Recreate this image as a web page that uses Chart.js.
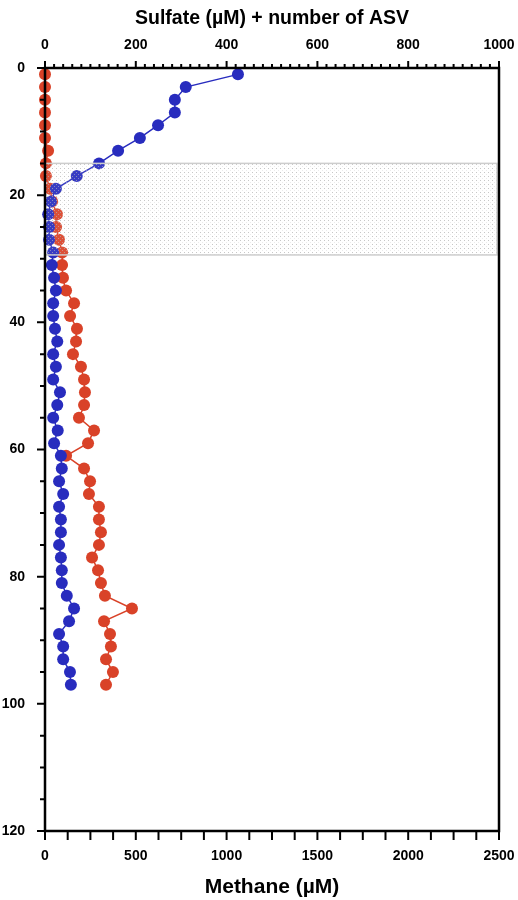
<!DOCTYPE html>
<html>
<head>
<meta charset="utf-8">
<script src="https://cdn.jsdelivr.net/npm/chart.js@4"></script>
<style>
html,body{margin:0;padding:0;background:#fff;}
#wrap{width:518px;height:900px;position:relative;}
</style>
</head>
<body>
<div id="wrap"><canvas id="c" width="518" height="900"></canvas></div>
<script>
// Depth (cm) of each sample
const depths = [1,3,5,7,9,11,13,15,17,19,21,23,25,27,29,31,33,35,37,39,41,43,45,47,49,51,53,55,57,59,61,63,65,67,69,71,73,75,77,79,81,83,85,87,89,91,93,95,97];
// Sulfate (µM) + number of ASV — top axis
const sulfate = [425,310,286,286,249,209,161,119,70,24,13,7,9,9,18,15,20,24,18,18,22,27,18,24,18,33,27,18,28,20,35,37,31,40,31,35,35,31,35,37,37,48,64,53,31,40,40,55,57];
// Methane (µM) — bottom axis
const methane = [0,0,0,0,0,0,17,5,5,28,39,66,61,77,94,94,99,116,160,138,176,171,154,198,215,220,215,187,270,237,116,215,248,242,297,297,308,297,259,292,308,330,479,325,358,363,336,374,336];
// Shaded zone (depth range)
const zoneDepths = [15, 29.4];

const topTitle = 'Sulfate (µM) + number of ASV';
const bottomTitle = 'Methane (µM)';
const FONT = "'Liberation Sans', Arial, sans-serif";

const blue = 'rgb(40,44,190)';
const red = 'rgb(217,66,40)';

function makePattern(ctx){
  const p = document.createElement('canvas');
  p.width = 4; p.height = 4;
  const g = p.getContext('2d');
  g.fillStyle = 'rgba(255,255,255,0.08)';
  g.fillRect(0,0,4,4);
  g.fillStyle = 'rgba(175,175,175,0.7)';
  g.fillRect(0,0,1,1);
  g.fillStyle = 'rgba(210,210,210,0.45)';
  g.fillRect(2,2,1,1);
  return ctx.createPattern(p,'repeat');
}

const decor = {
  id:'decor',
  afterDatasetsDraw(chart){
    const {ctx, chartArea:a, scales} = chart;
    const y = scales.y, xb = scales.x, xt = scales.x2;
    ctx.save();
    // shaded zone
    const y0 = y.getPixelForValue(zoneDepths[0]);
    const y1 = y.getPixelForValue(zoneDepths[1]);
    const xl = xt.getPixelForValue(0), xr = xt.getPixelForValue(1000) - 2;
    ctx.fillStyle = makePattern(ctx);
    ctx.fillRect(xl, y0, xr - xl, y1 - y0);
    ctx.strokeStyle = 'rgb(205,205,205)';
    ctx.lineWidth = 1.5;
    ctx.strokeRect(xl, y0, xr - xl, y1 - y0);
    // frame
    ctx.strokeStyle = '#000';
    ctx.lineWidth = 2.5;
    ctx.strokeRect(a.left, a.top, a.right - a.left, a.bottom - a.top);
    ctx.lineWidth = 2;
    ctx.beginPath();
    // left ticks
    for (let v = 0; v <= 120; v += 5){
      const py = y.getPixelForValue(v);
      const len = v % 20 === 0 ? 8 : 5;
      ctx.moveTo(a.left, py); ctx.lineTo(a.left - len, py);
    }
    // bottom ticks
    for (let v = 0; v <= 2500; v += 125){
      const px = xb.getPixelForValue(v);
      ctx.moveTo(px, a.bottom); ctx.lineTo(px, a.bottom + 9);
    }
    // top ticks
    for (let v = 0; v <= 1000; v += 20){
      const px = xt.getPixelForValue(v);
      const len = v % 200 === 0 ? 7 : 4;
      ctx.moveTo(px, a.top); ctx.lineTo(px, a.top - len);
    }
    ctx.stroke();
    ctx.restore();
  }
};

const tickFont = {family: FONT, size: 14, weight: 'bold'};
const plain = v => String(v);
function fixPad(s){ s.paddingLeft = 0; s.paddingRight = 0; s.paddingTop = 0; s.paddingBottom = 0; }

new Chart(document.getElementById('c'), {
  type: 'line',
  data: {
    datasets: [
      {
        label: 'Methane',
        data: methane.map((v,i)=>({x:v, y:depths[i]})),
        xAxisID: 'x', yAxisID: 'y',
        borderColor: red, backgroundColor: red,
        pointBackgroundColor: red, pointBorderColor: red,
        borderWidth: 1.5, pointRadius: 6, pointBorderWidth: 0,
        clip: false, order: 2
      },
      {
        label: 'Sulfate',
        data: sulfate.map((v,i)=>({x:v, y:depths[i]})),
        xAxisID: 'x2', yAxisID: 'y',
        borderColor: blue, backgroundColor: blue,
        pointBackgroundColor: blue, pointBorderColor: blue,
        borderWidth: 1.5, pointRadius: 6, pointBorderWidth: 0,
        clip: false, order: 1
      }
    ]
  },
  options: {
    responsive: false,
    animation: false,
    devicePixelRatio: 1,
    layout: {padding: {left: 0, right: 19, top: 0, bottom: 0}},
    plugins: {legend: {display: false}, tooltip: {enabled: false}},
    scales: {
      y: {
        type: 'linear', reverse: true, min: 0, max: 120,
        position: 'left',
        border: {display: false},
        grid: {display: false},
        ticks: {stepSize: 20, color: '#000', font: tickFont, padding: 12, callback: plain},
        afterFit(s){ s.width = 45; fixPad(s); }
      },
      x: {
        type: 'linear', min: 0, max: 2500, position: 'bottom',
        border: {display: false},
        grid: {display: false},
        ticks: {stepSize: 500, color: '#000', font: tickFont, padding: 9, maxRotation: 0, callback: plain},
        title: {display: true, text: bottomTitle, color: '#000',
                font: {family: FONT, size: 21, weight: 'bold'}, padding: {top: 0, bottom: 0}},
        afterFit(s){ s.height = 69; fixPad(s); }
      },
      x2: {
        type: 'linear', min: 0, max: 1000, position: 'top',
        border: {display: false},
        grid: {display: false},
        ticks: {stepSize: 200, color: '#000', font: tickFont, padding: 6, maxRotation: 0, callback: plain},
        title: {display: true, text: topTitle, color: '#000',
                font: {family: FONT, size: 19.5, weight: 'bold'}, padding: {top: 7, bottom: 0}},
        afterFit(s){ s.height = 68; fixPad(s); }
      }
    }
  },
  plugins: [decor]
});
</script>
</body>
</html>
